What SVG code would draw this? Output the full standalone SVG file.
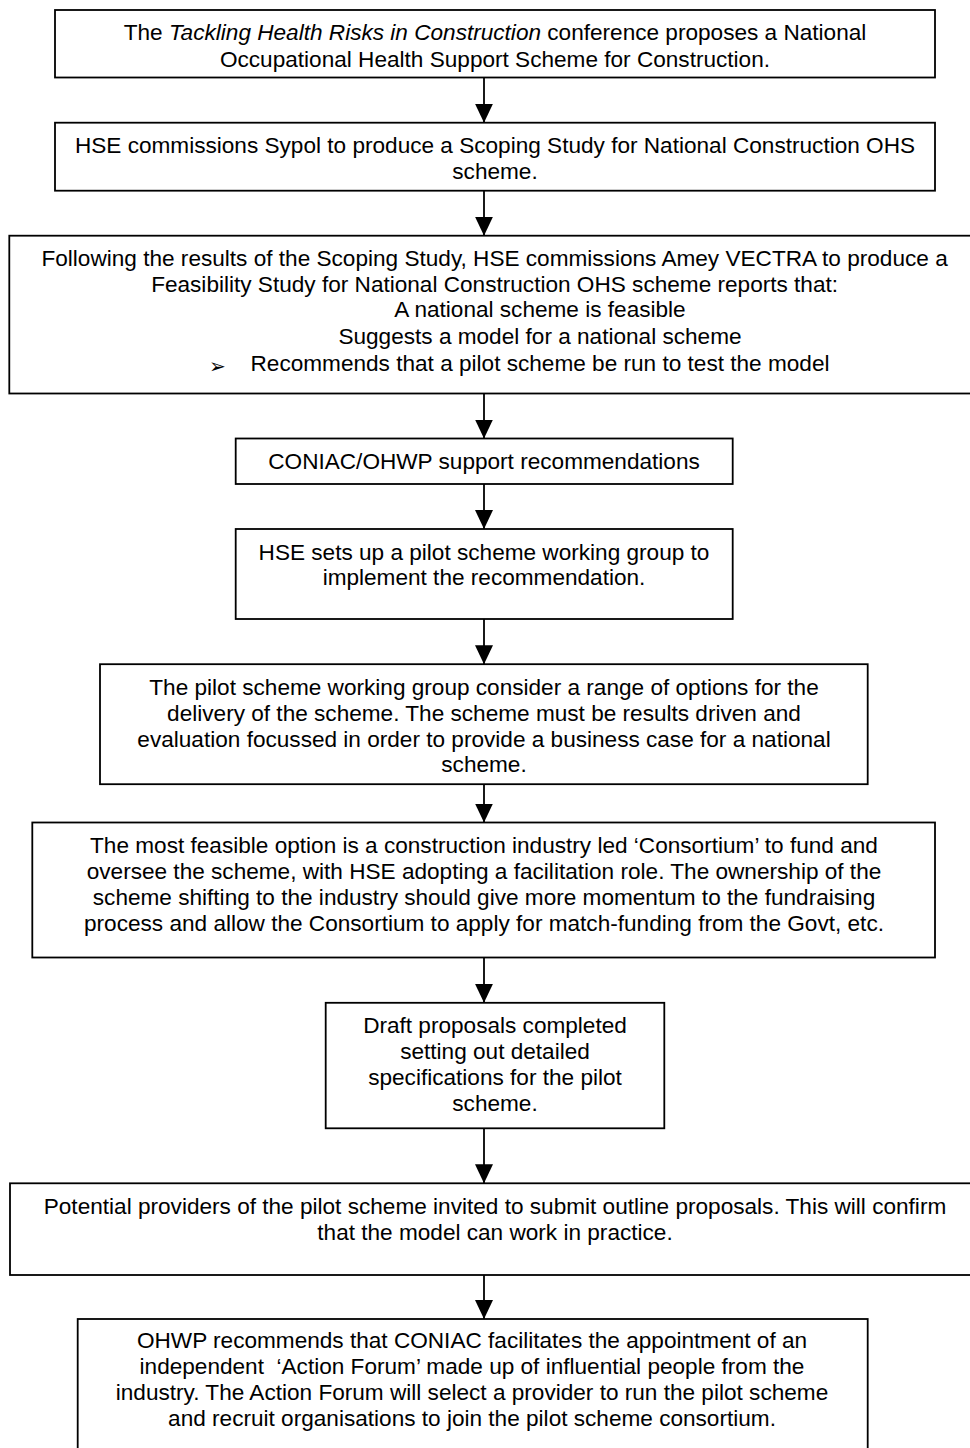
<svg xmlns="http://www.w3.org/2000/svg" width="970" height="1448" viewBox="0 0 970 1448">
<style>
  .box { fill: #ffffff; stroke: #000000; stroke-width: 1.8; }
  .t { font-family: "Liberation Sans", Arial, sans-serif; font-size: 22.6px; fill: #000000; text-anchor: middle; }
  .bul { font-family: "DejaVu Sans", sans-serif; font-size: 20px; fill: #000000; }
  .conn { stroke: #000000; stroke-width: 1.8; fill: none; marker-end: url(#ah); }
</style>
<defs>
  <marker id="ah" viewBox="0 0 19 18" refX="19" refY="9" markerWidth="19" markerHeight="18" markerUnits="userSpaceOnUse" orient="auto">
    <path d="M0,0 L19,9 L0,18 z" fill="#000000"/>
  </marker>
</defs>
<rect width="970" height="1448" fill="#ffffff"/>

<g id="connectors">
  <line class="conn" x1="484" y1="77.5" x2="484" y2="122.7"/>
  <line class="conn" x1="484" y1="190.7" x2="484" y2="235.7"/>
  <line class="conn" x1="484" y1="393.5" x2="484" y2="438.5"/>
  <line class="conn" x1="484" y1="484" x2="484" y2="529"/>
  <line class="conn" x1="484" y1="619" x2="484" y2="664.2"/>
  <line class="conn" x1="484" y1="782.7" x2="484" y2="822.5"/>
  <line class="conn" x1="484" y1="957.5" x2="484" y2="1002.8"/>
  <line class="conn" x1="484" y1="1126.7" x2="484" y2="1183.3"/>
  <line class="conn" x1="484" y1="1275" x2="484" y2="1319"/>
</g>

<g id="n1">
  <rect class="box" x="55" y="10" width="880" height="67.5"/>
  <text class="t" x="495" y="40">The <tspan font-style="italic">Tackling Health Risks in Construction</tspan> conference proposes a National</text>
  <text class="t" x="495" y="66.7">Occupational Health Support Scheme for Construction.</text>
</g>

<g id="n2">
  <rect class="box" x="55" y="122.7" width="880" height="68"/>
  <text class="t" x="495" y="153.3">HSE commissions Sypol to produce a Scoping Study for National Construction OHS</text>
  <text class="t" x="495" y="179">scheme.</text>
</g>

<g id="n3">
  <rect class="box" x="9.3" y="235.7" width="971" height="157.8"/>
  <text class="t" x="494.6" y="266">Following the results of the Scoping Study, HSE commissions Amey VECTRA to produce a</text>
  <text class="t" x="494.6" y="291.7">Feasibility Study for National Construction OHS scheme reports that:</text>
  <text class="t" x="540" y="317.3">A national scheme is feasible</text>
  <text class="t" x="540" y="344">Suggests a model for a national scheme</text>
  <text class="bul" x="209" y="373">➢</text>
  <text class="t" x="540" y="370.7">Recommends that a pilot scheme be run to test the model</text>
</g>

<g id="n4">
  <rect class="box" x="235.7" y="438.5" width="497" height="45.5"/>
  <text class="t" x="484" y="468.8">CONIAC/OHWP support recommendations</text>
</g>

<g id="n5">
  <rect class="box" x="235.7" y="529" width="497" height="90"/>
  <text class="t" x="484" y="559.5">HSE sets up a pilot scheme working group to</text>
  <text class="t" x="484" y="584.7">implement the recommendation.</text>
</g>

<g id="n6">
  <rect class="box" x="100" y="664.2" width="767.7" height="120"/>
  <text class="t" x="484" y="695">The pilot scheme working group consider a range of options for the</text>
  <text class="t" x="484" y="720.7">delivery of the scheme. The scheme must be results driven and</text>
  <text class="t" x="484" y="746.7">evaluation focussed in order to provide a business case for a national</text>
  <text class="t" x="484" y="771.7">scheme.</text>
</g>

<g id="n7">
  <rect class="box" x="32.3" y="822.5" width="902.7" height="135"/>
  <text class="t" x="484" y="852.7">The most feasible option is a construction industry led ‘Consortium’ to fund and</text>
  <text class="t" x="484" y="879">oversee the scheme, with HSE adopting a facilitation role. The ownership of the</text>
  <text class="t" x="484" y="905">scheme shifting to the industry should give more momentum to the fundraising</text>
  <text class="t" x="484" y="930.7">process and allow the Consortium to apply for match-funding from the Govt, etc.</text>
</g>

<g id="n8">
  <rect class="box" x="325.7" y="1002.8" width="338.6" height="125.5"/>
  <text class="t" x="495" y="1033.3">Draft proposals completed</text>
  <text class="t" x="495" y="1059">setting out detailed</text>
  <text class="t" x="495" y="1085">specifications for the pilot</text>
  <text class="t" x="495" y="1110.7">scheme.</text>
</g>

<g id="n9">
  <rect class="box" x="10" y="1183.3" width="970" height="91.7"/>
  <text class="t" x="495" y="1214">Potential providers of the pilot scheme invited to submit outline proposals. This will confirm</text>
  <text class="t" x="495" y="1240">that the model can work in practice.</text>
</g>

<g id="n10">
  <rect class="box" x="77.7" y="1319" width="790" height="140"/>
  <text class="t" x="472" y="1348.3">OHWP recommends that CONIAC facilitates the appointment of an</text>
  <text class="t" x="472" y="1374.3" xml:space="preserve">independent  ‘Action Forum’ made up of influential people from the</text>
  <text class="t" x="472" y="1400">industry. The Action Forum will select a provider to run the pilot scheme</text>
  <text class="t" x="472" y="1426">and recruit organisations to join the pilot scheme consortium.</text>
</g>
</svg>
